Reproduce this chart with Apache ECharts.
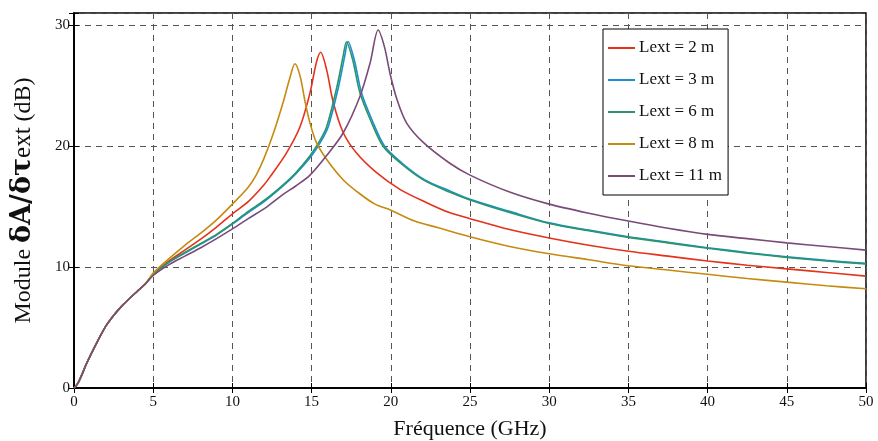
<!DOCTYPE html>
<html>
<head>
<meta charset="utf-8">
<script src="https://cdn.jsdelivr.net/npm/echarts@6/dist/echarts.min.js"></script>
<style>html,body{margin:0;padding:0;background:#fff}#c{width:878px;height:441px}</style>
</head>
<body>
<div id="c"></div>
<script>
// Shared low-frequency part (GHz, dB)
const startF = [0, 0.25, 0.5, 0.75, 1, 1.5, 2, 2.5, 3, 3.5, 4, 4.5];
const startV = [0, 0.4, 1.1, 1.9, 2.6, 3.9, 5.1, 6.0, 6.75, 7.4, 8.0, 8.6];

// Lext = 2 m
const f2 = [5, 6, 7, 8, 9, 10, 11, 12, 12.4, 13.4, 14.27, 14.9, 15.3, 15.57, 15.95, 16.37, 17.0, 17.85, 19.1, 20.6, 22.3, 23.7, 25, 27.5, 30, 32.5, 35, 37.5, 40, 42.5, 45, 47.5, 50];
const v2 = [9.4, 10.5, 11.4, 12.3, 13.3, 14.4, 15.4, 16.8, 17.5, 19.4, 21.6, 24.4, 26.9, 27.75, 26.3, 23.6, 21.1, 19.4, 17.8, 16.4, 15.3, 14.5, 14.0, 13.1, 12.4, 11.8, 11.3, 10.9, 10.5, 10.15, 9.85, 9.55, 9.25];

// Lext = 3 m
const f3 = [5, 6, 7, 8, 9, 10, 11, 12, 13.2, 14, 15, 15.6, 16.05, 16.7, 17.1, 17.3, 17.7, 18.15, 18.8, 19.6, 20.7, 22.15, 23.7, 25, 27.5, 30, 32.5, 35, 37.5, 40, 42.5, 45, 47.5, 50];
const v3 = [9.35, 10.4, 11.15, 11.9, 12.65, 13.55, 14.5, 15.4, 16.7, 17.7, 19.2, 20.4, 21.6, 24.9, 27.5, 28.65, 27.1, 24.4, 22.2, 20.0, 18.6, 17.2, 16.3, 15.6, 14.6, 13.65, 13.05, 12.5, 12.05, 11.6, 11.2, 10.85, 10.55, 10.3];

// Lext = 6 m
const f6 = [5, 6, 7, 8, 9, 10, 11, 12, 13.2, 14, 14.9, 15.5, 15.95, 16.6, 17.0, 17.2, 17.6, 18.05, 18.7, 19.5, 20.6, 22.05, 23.7, 25, 27.5, 30, 32.5, 35, 37.5, 40, 42.5, 45, 47.5, 50];
const v6 = [9.35, 10.4, 11.2, 11.95, 12.7, 13.6, 14.6, 15.5, 16.8, 17.8, 19.2, 20.4, 21.6, 24.9, 27.5, 28.6, 27.1, 24.4, 22.2, 20.0, 18.6, 17.2, 16.2, 15.55, 14.5, 13.6, 13.0, 12.45, 12.0, 11.55, 11.15, 10.8, 10.5, 10.25];

// Lext = 8 m
const f8 = [5, 6, 7, 8, 9, 10, 11, 11.5, 12, 12.6, 13.2, 13.6, 13.95, 14.27, 14.6, 14.9, 15.3, 16, 17, 18, 19, 20, 21.5, 23, 25, 27.5, 30, 32.5, 35, 37.5, 40, 42.5, 45, 47.5, 50];
const v8 = [9.5, 10.7, 11.8, 12.8, 13.9, 15.2, 16.6, 17.6, 19.0, 21.1, 23.6, 25.5, 26.8, 25.8, 23.6, 21.9, 20.3, 18.8, 17.2, 16.1, 15.2, 14.7, 13.8, 13.25, 12.5, 11.7, 11.1, 10.6, 10.1, 9.75, 9.4, 9.05, 8.75, 8.45, 8.2];

// Lext = 11 m
const f11 = [5, 6, 7, 8, 9, 10, 11, 12.2, 13.2, 14, 14.9, 16, 17.0, 18.05, 18.7, 19.2, 19.6, 19.95, 20.4, 21.0, 22.05, 23.7, 25, 27.5, 30, 32.5, 35, 37.5, 40, 42.5, 45, 47.5, 50];
const v11 = [9.3, 10.2, 10.9, 11.6, 12.35, 13.15, 14.0, 15.0, 16.0, 16.7, 17.6, 19.3, 21.1, 24.1, 26.9, 29.6, 28.2, 26.0, 23.8, 21.9, 20.3, 18.6, 17.6, 16.2, 15.2, 14.45, 13.8, 13.2, 12.7, 12.35, 12.0, 11.7, 11.4];

const names = ['Lext = 2 m', 'Lext = 3 m', 'Lext = 6 m', 'Lext = 8 m', 'Lext = 11 m'];
const colors = ['#e4321b', '#1b8fd2', '#2a9569', '#c68a10', '#7a4a78'];
const freqs = [f2, f3, f6, f8, f11];
const vals = [v2, v3, v6, v8, v11];
const xTicks = [0, 5, 10, 15, 20, 25, 30, 35, 40, 45, 50];
const yTicks = [0, 10, 20, 30];

function pairs(f, v) {
  const fx = startF.concat(f), vy = startV.concat(v);
  return fx.map((x, i) => [x, vy[i]]);
}

const FONT = 'Liberation Serif';
const chart = echarts.init(document.getElementById('c'));
const gridLine = { show: true, lineStyle: { color: '#555', type: [6, 5], width: 1 } };

chart.setOption({
  animation: false,
  backgroundColor: '#fff',
  grid: { left: 74, right: 12, top: 13, bottom: 53, show: true, borderColor: '#000', borderWidth: 1.5,
          outerBoundsMode: 'none', containLabel: false },
  legend: {
    orient: 'vertical', left: 603, top: 29,
    backgroundColor: '#fff', borderColor: '#000', borderWidth: 1,
    padding: [9, 6, 9, 5], itemGap: 12, itemWidth: 27, itemHeight: 2,
    icon: 'rect',
    data: names,
    textStyle: { fontFamily: FONT, fontSize: 17, color: '#111', lineHeight: 20, padding: [0, 0, 0, -1] }
  },
  xAxis: [{
    type: 'value', min: 0, max: 50, interval: 5,
    name: 'Fréquence (GHz)', nameLocation: 'middle', nameGap: 30,
    nameTextStyle: { fontFamily: FONT, fontSize: 22, color: '#111' },
    axisLine: { lineStyle: { color: '#000', width: 1.5 } },
    axisTick: { inside: true, length: 5, lineStyle: { color: '#000' } },
    axisLabel: { fontFamily: FONT, fontSize: 15, color: '#111', margin: 7,
      formatter: v => xTicks.includes(v) ? String(v) : '' },
    splitLine: gridLine
  }, {
    type: 'value', position: 'top', min: 0, max: 50, interval: 5,
    axisLine: { show: true, lineStyle: { color: '#000', width: 1.5 } },
    axisTick: { inside: true, length: 5, lineStyle: { color: '#000' } },
    axisLabel: { show: false }, splitLine: { show: false }
  }],
  yAxis: [{
    type: 'value', min: 0, max: 31, interval: 10,
    name: '{a|Module }{b|δA/δτ}{c|ext}{a| (dB)}', nameLocation: 'middle', nameGap: 38,
    nameTextStyle: {
      color: '#111',
      rich: {
        a: { fontFamily: FONT, fontSize: 24, color: '#111', verticalAlign: 'bottom' },
        b: { fontFamily: 'DejaVu Serif', fontSize: 27, fontWeight: 'bold', color: '#111', verticalAlign: 'bottom' },
        c: { fontFamily: FONT, fontSize: 25, color: '#111', verticalAlign: 'bottom' }
      }
    },
    axisLine: { lineStyle: { color: '#000', width: 1.5 } },
    axisTick: { inside: true, length: 5, lineStyle: { color: '#000' } },
    axisLabel: { fontFamily: FONT, fontSize: 15, color: '#111', margin: 4,
      formatter: v => yTicks.includes(v) ? String(v) : '' },
    splitLine: { show: true, lineStyle: { color: '#555', type: [6, 5], width: 1 } }
  }, {
    type: 'value', position: 'right', min: 0, max: 31, interval: 10,
    axisLine: { show: true, lineStyle: { color: '#000', width: 1.5 } },
    axisTick: { inside: true, length: 5, lineStyle: { color: '#000' } },
    axisLabel: { show: false }, splitLine: { show: false }
  }],
  series: names.map((n, i) => ({
    name: n, type: 'line', symbol: 'none', smooth: 0.3,
    color: colors[i],
    lineStyle: { color: colors[i], width: 1.6 },
    data: pairs(freqs[i], vals[i]),
    z: 3
  }))
});
</script>
</body>
</html>
